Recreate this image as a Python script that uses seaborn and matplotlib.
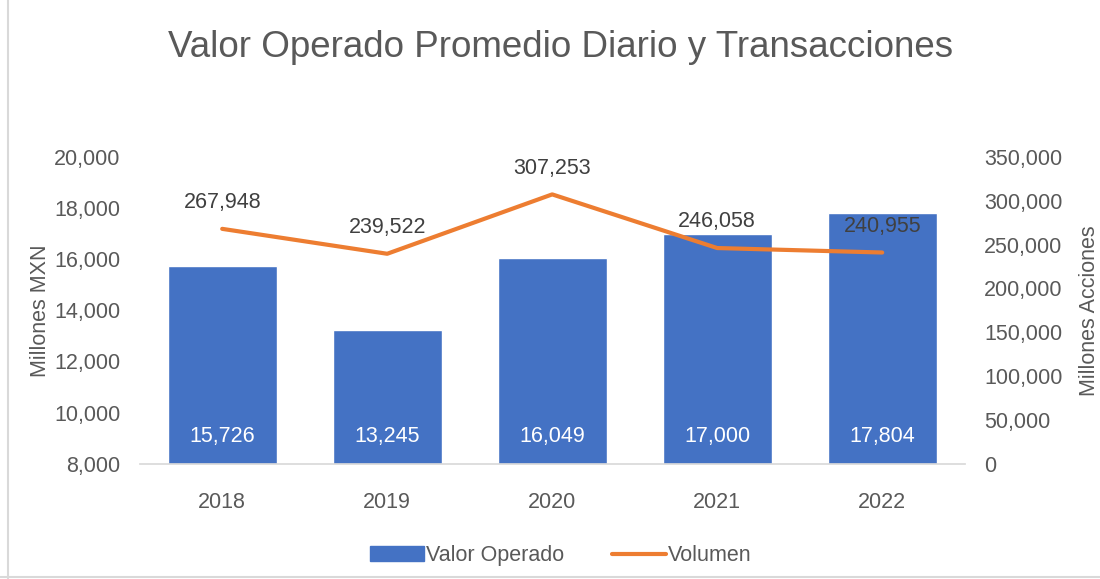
import numpy as np
import pandas as pd
import matplotlib.pyplot as plt
import seaborn as sns
from matplotlib.lines import Line2D
from matplotlib.patches import Patch

# -------------------------
# Données
# -------------------------
years = ["2018", "2019", "2020", "2021", "2022"]
valor_operado = [15726, 13245, 16049, 17000, 17804]
volumen = [267948, 239522, 307253, 246058, 240955]

BLUE = "#4472C4"
ORANGE = "#ED7D31"
GREY = "#595959"
FS = 15.5

sns.set_theme(style="white")
plt.rcParams["font.family"] = ["Liberation Sans", "DejaVu Sans"]

df = pd.DataFrame({"year": years, "valor": valor_operado, "vol": volumen})

fig = plt.figure(figsize=(11, 5.79), dpi=100)
fig.patch.set_facecolor("white")
ax = fig.add_axes([0.127, 0.199, 0.750, 0.530])

sns.barplot(data=df, x="year", y="valor", color=BLUE, width=0.66,
            saturation=1, ax=ax)
ax.set_ylim(8000, 20000)
ax.set_yticks(range(8000, 20001, 2000))
ax.yaxis.set_major_formatter(plt.FuncFormatter(lambda v, p: f"{int(v):,}"))
ax.set_xlabel("")
ax.set_ylabel("Millones MXN", fontsize=FS, color=GREY, labelpad=2)
ax.tick_params(axis="both", labelsize=FS, colors=GREY, length=0)
ax.tick_params(axis="x", pad=20)
ax.tick_params(axis="y", pad=14)
for s in ["top", "right", "left"]:
    ax.spines[s].set_visible(False)
ax.spines["bottom"].set_color("#D9D9D9")

for i, v in enumerate(valor_operado):
    ax.text(i, 9050, f"{v:,}", ha="center", va="center", color="white", fontsize=FS)

ax2 = ax.twinx()
sns.lineplot(x=np.arange(len(years)), y=volumen, color=ORANGE, linewidth=3,
             ax=ax2)
ax2.set_ylim(0, 350000)
ax2.set_yticks(range(0, 350001, 50000))
ax2.yaxis.set_major_formatter(plt.FuncFormatter(lambda v, p: f"{int(v):,}"))
ax2.set_ylabel("Millones Acciones", fontsize=FS, color=GREY, rotation=90, labelpad=12)
ax2.tick_params(axis="y", labelsize=FS, colors=GREY, length=0, pad=14)
for s in ["top", "right", "left", "bottom"]:
    ax2.spines[s].set_visible(False)
ax.set_xlim(-0.5, 4.5)

for i, v in enumerate(volumen):
    ax2.text(i, v + 30000, f"{v:,}", ha="center", va="center", color="#404040", fontsize=FS)

fig.text(0.51, 0.918, "Valor Operado Promedio Diario y Transacciones",
         ha="center", va="center", fontsize=26.5, color=GREY)

handles = [Patch(facecolor=BLUE, edgecolor=BLUE),
           Line2D([0], [0], color=ORANGE, linewidth=3)]
fig.legend(handles, ["Valor Operado", "Volumen"], loc="center",
           bbox_to_anchor=(0.51, 0.04), ncol=2, frameon=False,
           fontsize=FS, labelcolor=GREY, handlelength=2.5, handletextpad=0.1,
           columnspacing=2.2)

# cadre gris léger
fig.add_artist(Line2D([0.007, 0.007], [0, 1], color="#D9D9D9", linewidth=1.5,
                      transform=fig.transFigure))
fig.add_artist(Line2D([0, 1], [0.003, 0.003], color="#D9D9D9", linewidth=1.5,
                      transform=fig.transFigure))

fig.savefig("out.png", dpi=100)
